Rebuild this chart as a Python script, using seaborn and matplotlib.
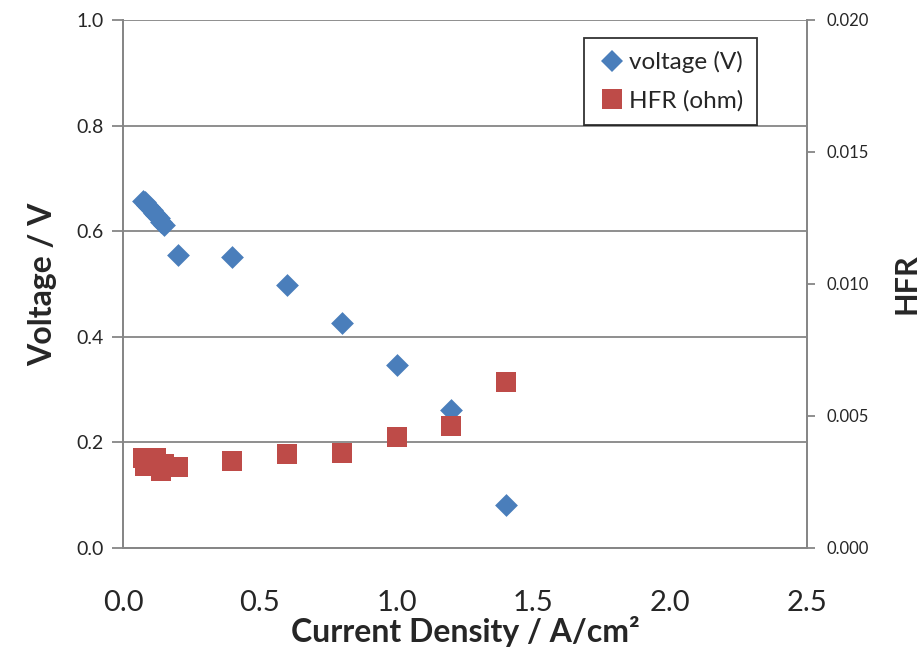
import matplotlib
matplotlib.use("Agg")
import matplotlib.pyplot as plt
import seaborn as sns
import pandas as pd
from matplotlib.lines import Line2D

current = [0.073, 0.08, 0.088, 0.096, 0.105, 0.113, 0.121, 0.13, 0.14, 0.15,
           0.2, 0.4, 0.6, 0.8, 1.0, 1.2, 1.4]
voltage = [0.658, 0.655, 0.650, 0.645, 0.640, 0.635, 0.630, 0.625, 0.618, 0.612,
           0.555, 0.552, 0.498, 0.426, 0.347, 0.262, 0.082]
hfr = [0.0034, 0.0031, 0.0034, 0.0033, 0.0034, 0.0032, 0.0034, 0.0031, 0.0029, 0.0032,
       0.00307, 0.0033, 0.00357, 0.0036, 0.00422, 0.00461, 0.00628]

df = pd.DataFrame({"current": current, "voltage": voltage, "hfr": hfr})

sns.set_style("white")
plt.rcParams['font.family'] = ['Lato', 'DejaVu Sans']

fig = plt.figure(figsize=(9.19, 6.51), dpi=100)
ax = fig.add_axes([123/919, 103/651, 684/919, 528/651])
ax2 = ax.twinx()

blue = "#4a7ebb"
red = "#be4b48"
sns.scatterplot(data=df, x="current", y="voltage", ax=ax, marker="D", s=135,
                color=blue, edgecolor=blue, linewidth=0, zorder=3)
sns.scatterplot(data=df, x="current", y="hfr", ax=ax2, marker="s", s=210,
                color=red, edgecolor=red, linewidth=0, zorder=3)

ax.set_xlim(0, 2.5)
ax.set_ylim(0, 1.0)
ax2.set_ylim(0, 0.02)
ax.set_xticks([0, 0.5, 1.0, 1.5, 2.0, 2.5])
ax.set_xticklabels(["0.0", "0.5", "1.0", "1.5", "2.0", "2.5"], fontsize=21)
ax.set_yticks([0, 0.2, 0.4, 0.6, 0.8, 1.0])
ax.set_yticklabels(["0.0", "0.2", "0.4", "0.6", "0.8", "1.0"], fontsize=14)
ax2.set_yticks([0, 0.005, 0.010, 0.015, 0.020])
ax2.set_yticklabels(["0.000", "0.005", "0.010", "0.015", "0.020"], fontsize=12)

ax.yaxis.grid(True, color="#868686", linewidth=1.3)
ax.set_axisbelow(True)

ax.set_xlabel("Current Density / A/cm²", fontsize=23, fontweight="bold", labelpad=0)
ax.set_ylabel("Voltage / V", fontsize=23, fontweight="bold", labelpad=14)
ax2.set_ylabel("HFR", fontsize=22, fontweight="bold", labelpad=17)

for a in (ax, ax2):
    for s in a.spines.values():
        s.set_color("#868686")
        s.set_linewidth(1.3)
    a.spines["top"].set_visible(False)
ax.tick_params(axis="y", direction="out", length=8, width=1.3, color="#868686", pad=6)
ax.tick_params(axis="x", direction="out", length=10, width=1.3, color="#868686", pad=20)
ax2.tick_params(axis="y", direction="out", length=6, width=1.3, color="#868686", pad=8)

handles = [Line2D([], [], marker="D", linestyle="none", color=blue, markersize=11, markeredgewidth=0),
           Line2D([], [], marker="s", linestyle="none", color=red, markersize=14, markeredgewidth=0)]
leg = ax2.legend(handles, ["voltage (V)", "HFR (ohm)"], loc="upper right",
                 bbox_to_anchor=(757/919, 613/651), bbox_transform=fig.transFigure,
                 fontsize=17.5, frameon=True, fancybox=False, handletextpad=0.1,
                 borderpad=0.55, labelspacing=0.7, handlelength=1.2, borderaxespad=0)
leg.get_frame().set_edgecolor("black")
leg.get_frame().set_linewidth(1.3)

fig.savefig("out.png", dpi=100)
